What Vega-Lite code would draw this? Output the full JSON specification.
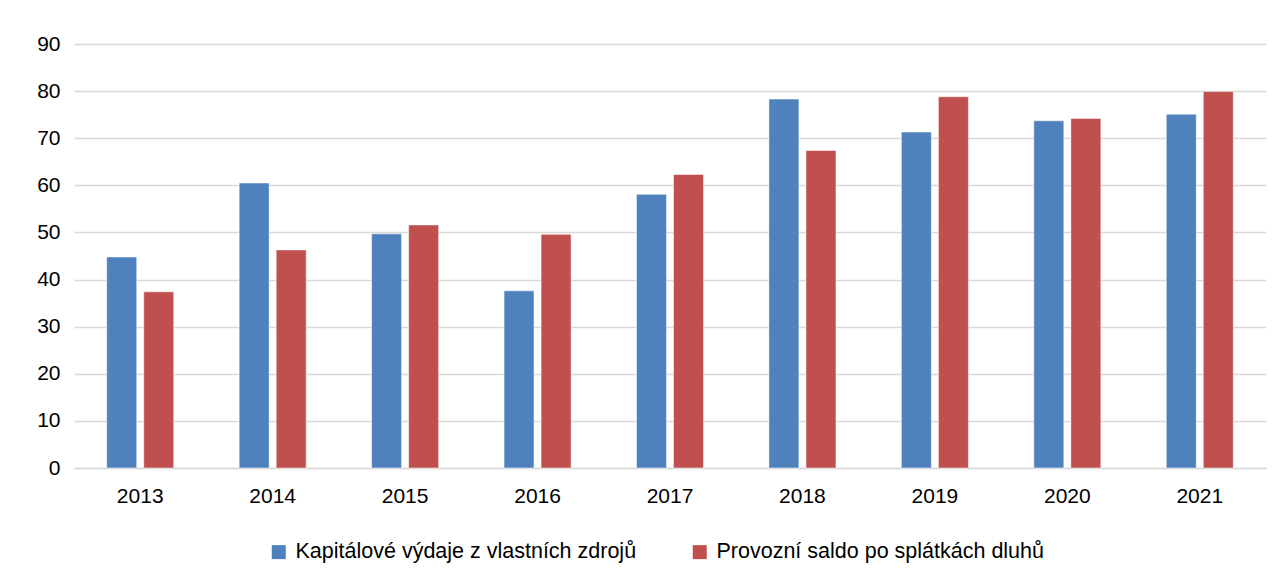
{
  "$schema": "https://vega.github.io/schema/vega-lite/v6.json",
  "width": 1192,
  "height": 424,
  "autosize": {"type": "none"},
  "padding": {"left": 74, "top": 44, "right": 18, "bottom": 114},
  "background": "white",
  "config": {
    "view": {"stroke": null},
    "font": "Liberation Sans",
    "axis": {"labelFont": "Liberation Sans", "labelColor": "#000000"},
    "legend": {"labelFont": "Liberation Sans", "labelColor": "#000000"}
  },
  "data": {
    "values": [
      {"rok": "2013", "serie": "Kapitálové výdaje z vlastních zdrojů", "hodnota": 44.8},
      {"rok": "2013", "serie": "Provozní saldo po splátkách dluhů", "hodnota": 37.4},
      {"rok": "2014", "serie": "Kapitálové výdaje z vlastních zdrojů", "hodnota": 60.5},
      {"rok": "2014", "serie": "Provozní saldo po splátkách dluhů", "hodnota": 46.3},
      {"rok": "2015", "serie": "Kapitálové výdaje z vlastních zdrojů", "hodnota": 49.7},
      {"rok": "2015", "serie": "Provozní saldo po splátkách dluhů", "hodnota": 51.6},
      {"rok": "2016", "serie": "Kapitálové výdaje z vlastních zdrojů", "hodnota": 37.6},
      {"rok": "2016", "serie": "Provozní saldo po splátkách dluhů", "hodnota": 49.6},
      {"rok": "2017", "serie": "Kapitálové výdaje z vlastních zdrojů", "hodnota": 58.1},
      {"rok": "2017", "serie": "Provozní saldo po splátkách dluhů", "hodnota": 62.3},
      {"rok": "2018", "serie": "Kapitálové výdaje z vlastních zdrojů", "hodnota": 78.3},
      {"rok": "2018", "serie": "Provozní saldo po splátkách dluhů", "hodnota": 67.4},
      {"rok": "2019", "serie": "Kapitálové výdaje z vlastních zdrojů", "hodnota": 71.3},
      {"rok": "2019", "serie": "Provozní saldo po splátkách dluhů", "hodnota": 78.8},
      {"rok": "2020", "serie": "Kapitálové výdaje z vlastních zdrojů", "hodnota": 73.7},
      {"rok": "2020", "serie": "Provozní saldo po splátkách dluhů", "hodnota": 74.2},
      {"rok": "2021", "serie": "Kapitálové výdaje z vlastních zdrojů", "hodnota": 75.1},
      {"rok": "2021", "serie": "Provozní saldo po splátkách dluhů", "hodnota": 79.9}
    ]
  },
  "mark": {"type": "bar", "stroke": "white", "strokeWidth": 0.5},
  "encoding": {
    "x": {
      "field": "rok",
      "type": "nominal",
      "title": null,
      "scale": {"paddingInner": 0.494, "paddingOuter": 0.247},
      "axis": {
        "labelAngle": 0,
        "labelFontSize": 21,
        "labelPadding": 17,
        "ticks": false,
        "domain": true,
        "domainColor": "#d9d9d9",
        "domainWidth": 1.5,
        "grid": false
      }
    },
    "xOffset": {
      "field": "serie",
      "type": "nominal",
      "scale": {"paddingInner": 0.19, "paddingOuter": 0}
    },
    "y": {
      "field": "hodnota",
      "type": "quantitative",
      "title": null,
      "scale": {"domain": [0, 90], "nice": false},
      "axis": {
        "values": [0, 10, 20, 30, 40, 50, 60, 70, 80, 90],
        "labelFontSize": 21,
        "labelPadding": 14,
        "ticks": false,
        "domain": false,
        "grid": true,
        "gridColor": "#d9d9d9",
        "gridWidth": 1.5
      }
    },
    "color": {
      "field": "serie",
      "type": "nominal",
      "scale": {
        "domain": ["Kapitálové výdaje z vlastních zdrojů", "Provozní saldo po splátkách dluhů"],
        "range": ["#4F81BD", "#C0504D"]
      },
      "legend": {
        "title": null,
        "orient": "none",
        "legendX": 194,
        "legendY": 497,
        "direction": "horizontal",
        "symbolType": "square",
        "symbolSize": 196,
        "symbolStrokeWidth": 0,
        "labelFontSize": 21.5,
        "labelLimit": 500,
        "labelOffset": 6,
        "columnPadding": 52
      }
    }
  }
}
